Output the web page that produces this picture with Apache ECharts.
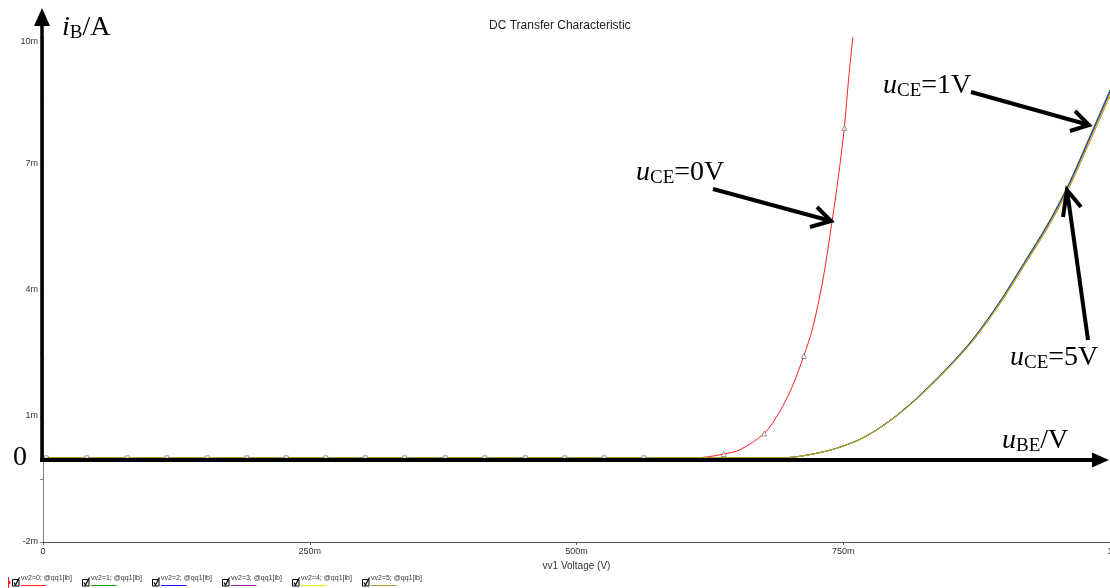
<!DOCTYPE html>
<html>
<head>
<meta charset="utf-8">
<script src="https://cdn.jsdelivr.net/npm/echarts@6/dist/echarts.min.js"></script>
<style>
  html, body { margin: 0; padding: 0; background: #ffffff; }
  #chart { width: 1110px; height: 588px; }
</style>
</head>
<body>
<div id="chart"></div>
<script>
// ---- chart text ----
const titleText = 'DC Transfer Characteristic';
const xAxisName = 'vv1 Voltage (V)';

// ---- axis ticks (x in volts, y in mA) ----
const xTicks = [0, 0.25, 0.5, 0.75, 1];
const xTickLabels = ['0', '250m', '500m', '750m', '1'];
const yLabelValues = [-2, 1, 4, 7, 10];
const yLabelTexts = ['-2m', '1m', '4m', '7m', '10m'];
const yTickValues = [-2, -0.5, 1, 2.5, 4, 5.5, 7, 8.5, 10];

// ---- traces: base current iB (mA) against vv1 (V), one per vv2 step ----
const seriesNames = ['vv2=0; @qq1[ib]', 'vv2=1; @qq1[ib]', 'vv2=2; @qq1[ib]',
                     'vv2=3; @qq1[ib]', 'vv2=4; @qq1[ib]', 'vv2=5; @qq1[ib]'];
const seriesColors = ['#ff2020', '#129a12', '#1818ff', '#a020a8', '#e6e600', '#9c9c2c'];

// vv2 = 0 V
const redV  = [0, 0.600, 0.618, 0.638, 0.653, 0.676, 0.690, 0.702, 0.713, 0.721, 0.730, 0.737, 0.745, 0.751, 0.755, 0.759];
const redIb = [0, 0,     0.01,  0.09,  0.19,  0.58,  1.08,  1.68,  2.42,  3.05,  4.10,  5.19,  6.60,  7.84,  9.00,  10.0];

// vv2 = 1 V ... 5 V share the same voltage samples
const bundleV = [0, 0.693, 0.715, 0.740, 0.762, 0.777, 0.790, 0.802, 0.821, 0.846, 0.871, 0.896, 0.919, 0.943, 0.962, 0.980, 1.000];
const ib1 = [0, 0, 0.060, 0.200, 0.400, 0.600, 0.820, 1.050, 1.470, 2.100, 2.810, 3.690, 4.620, 5.620, 6.550, 7.580, 8.750];
const ib2 = [0, 0, 0.060, 0.199, 0.398, 0.597, 0.816, 1.045, 1.462, 2.090, 2.796, 3.672, 4.597, 5.592, 6.517, 7.542, 8.706];
const ib3 = [0, 0, 0.059, 0.198, 0.396, 0.595, 0.813, 1.041, 1.456, 2.080, 2.783, 3.656, 4.577, 5.567, 6.488, 7.508, 8.668];
const ib4 = [0, 0, 0.059, 0.197, 0.395, 0.592, 0.809, 1.036, 1.449, 2.071, 2.771, 3.640, 4.557, 5.543, 6.459, 7.475, 8.630];
const ib5 = [0, 0, 0.059, 0.197, 0.393, 0.590, 0.806, 1.032, 1.444, 2.064, 2.761, 3.627, 4.541, 5.523, 6.436, 7.448, 8.600];

// trace symbols: squares along the flat part, triangles on the vv2=0 trace
const squareMarkV = [0.003, 0.041, 0.079, 0.116, 0.154, 0.191, 0.228, 0.265, 0.302,
                     0.339, 0.377, 0.414, 0.452, 0.489, 0.526, 0.563];
const triangleMarkV = [0.638, 0.676, 0.713, 0.751];

const pair = (xs, ys) => xs.map((x, i) => [x, ys[i]]);
const bundle = [ib1, ib2, ib3, ib4, ib5];

const chart = echarts.init(document.getElementById('chart'), null, { renderer: 'canvas' });

const lineSeries = [pair(redV, redIb)].concat(bundle.map(ys => pair(bundleV, ys))).map((data, i) => ({
  name: seriesNames[i],
  type: 'line',
  data: data,
  showSymbol: false,
  symbol: 'none',
  smooth: 0.3,
  clip: true,
  lineStyle: { color: seriesColors[i], width: 1 },
  itemStyle: { color: seriesColors[i] },
  z: 3 + i,
  silent: true
}));

const markerSeries = [
  {
    type: 'scatter',
    data: squareMarkV.map(v => [v, 0]),
    symbol: 'rect',
    symbolSize: 4,
    itemStyle: { color: '#ffffff', borderColor: '#808080', borderWidth: 1 },
    z: 12, silent: true
  },
  {
    type: 'scatter',
    data: triangleMarkV.map(v => [v, redIb[redV.indexOf(v)]]),
    symbol: 'triangle',
    symbolSize: 5,
    itemStyle: { color: '#ffffff', borderColor: '#808080', borderWidth: 1 },
    z: 12, silent: true
  }
];

const axisFont = 'Liberation Sans, Arial, sans-serif';
const serif = 'Liberation Serif, Times New Roman, serif';

chart.setOption({
  animation: false,
  backgroundColor: '#ffffff',
  title: {
    text: titleText,
    left: 484,
    top: 15,
    textStyle: { fontFamily: axisFont, fontSize: 12, fontWeight: 'normal', color: '#222222' }
  },
  grid: { left: 43, right: 0, top: 37, bottom: 46, containLabel: false, outerBoundsMode: 'none' },
  xAxis: {
    type: 'value',
    min: 0,
    max: 1,
    interval: 0.25,
    name: xAxisName,
    nameLocation: 'middle',
    nameGap: 19,
    nameTextStyle: { fontFamily: axisFont, fontSize: 10, color: '#333333' },
    axisLine: { onZero: false, lineStyle: { color: '#555555', width: 1 } },
    axisTick: { show: true, length: 3, lineStyle: { color: '#555555' } },
    axisLabel: {
      margin: 5,
      fontFamily: axisFont, fontSize: 9, color: '#333333',
      formatter: v => {
        const i = xTicks.findIndex(t => Math.abs(t - v) < 1e-9);
        return i >= 0 ? xTickLabels[i] : '';
      }
    },
    splitLine: { show: false }
  },
  yAxis: {
    type: 'value',
    min: -2,
    max: 10,
    interval: 3,
    axisLine: { show: true, onZero: false, lineStyle: { color: '#808080', width: 1 } },
    axisTick: { show: true, length: 3, customValues: yTickValues, lineStyle: { color: '#808080' } },
    axisLabel: {
      margin: 5,
      customValues: yLabelValues,
      verticalAlignMaxLabel: 'top',
      fontFamily: axisFont, fontSize: 9, color: '#333333',
      formatter: v => {
        const i = yLabelValues.findIndex(t => Math.abs(t - v) < 1e-9);
        return i >= 0 ? yLabelTexts[i] : '';
      }
    },
    splitLine: { show: false }
  },
  series: lineSeries.concat(markerSeries)
});

// ---- hand-drawn style axes, captions and pointer arrows ----
const measureCtx = document.createElement('canvas').getContext('2d');
function textWidth(str, font) {
  measureCtx.font = font;
  return measureCtx.measureText(str).width;
}

// caption = italic symbol, lowered subscript, then upright remainder, all on one baseline
function caption(x, baseline, first, sub, rest, italicFirst) {
  const mainSize = 28, subSize = 19;
  const firstFont = (italicFirst ? 'italic ' : '') + mainSize + 'px ' + serif;
  const subFont = subSize + 'px ' + serif;
  const restFont = mainSize + 'px ' + serif;
  const midMain = baseline - 0.3 * mainSize;
  const midSub = baseline + 3 - 0.3 * subSize;
  const parts = [];
  let cx = x;
  const addPart = (str, font, size, italic, mid) => {
    if (!str) return;
    parts.push({
      type: 'text', x: cx, y: mid, z: 100,
      style: {
        text: str, fontFamily: serif, fontSize: size, fontStyle: italic ? 'italic' : 'normal',
        fill: '#000000', align: 'left', verticalAlign: 'middle'
      }
    });
    cx += textWidth(str, font);
  };
  addPart(first, firstFont, mainSize, italicFirst, midMain);
  addPart(sub, subFont, subSize, false, midSub);
  addPart(rest, restFont, mainSize, false, midMain);
  return parts;
}

function pointer(from, tip, armA, armB) {
  return [
    { type: 'line', z: 100, shape: { x1: from[0], y1: from[1], x2: tip[0], y2: tip[1] },
      style: { stroke: '#000', lineWidth: 4, lineCap: 'butt' } },
    { type: 'polyline', z: 100, shape: { points: [armA, tip, armB] },
      style: { stroke: '#000', lineWidth: 4, lineJoin: 'miter', fill: null } }
  ];
}

const graphics = [
  // vertical axis arrow
  { type: 'line', z: 90, shape: { x1: 42, y1: 458, x2: 42, y2: 22 }, style: { stroke: '#000', lineWidth: 3.5 } },
  { type: 'polygon', z: 90, shape: { points: [[42, 8], [34, 26], [50, 26]] }, style: { fill: '#000' } },
  // horizontal axis arrow
  { type: 'line', z: 90, shape: { x1: 40, y1: 460, x2: 1095, y2: 460 }, style: { stroke: '#000', lineWidth: 4 } },
  { type: 'polygon', z: 90, shape: { points: [[1109, 460], [1092, 452.5], [1092, 467.5]] }, style: { fill: '#000' } }
]
  .concat(caption(62, 36, 'i', 'B', '/A', true))
  .concat(caption(1002, 449, 'u', 'BE', '/V', true))
  .concat(caption(13, 466, '0', '', '', false))
  .concat(caption(636, 181, 'u', 'CE', '=0V', true))
  .concat(caption(883, 94, 'u', 'CE', '=1V', true))
  .concat(caption(1010, 366, 'u', 'CE', '=5V', true))
  .concat(pointer([713, 189], [831, 221], [817, 207], [810, 227]))
  .concat(pointer([971, 92], [1089, 125], [1075, 111], [1070, 131]))
  .concat(pointer([1088, 340], [1067, 190], [1063, 217], [1081, 207]));

// legend strip: checkbox, trace name and a sample of the trace colour
graphics.push({ type: 'polygon', z: 100, shape: { points: [[8, 579], [11, 582.5], [8, 586]] }, style: { fill: '#ff2020' } });
graphics.push({ type: 'line', z: 100, shape: { x1: 8.5, y1: 577, x2: 8.5, y2: 588 }, style: { stroke: '#ff2020', lineWidth: 1 } });
seriesNames.forEach((name, i) => {
  const x0 = 12.5 + 70 * i;
  graphics.push(
    { type: 'rect', z: 100, shape: { x: x0, y: 579.5, width: 6.5, height: 6.5 },
      style: { fill: '#ffffff', stroke: '#000000', lineWidth: 1 } },
    { type: 'polyline', z: 101, shape: { points: [[x0 + 1.5, 582.5], [x0 + 3, 585], [x0 + 7, 577.5]] },
      style: { stroke: '#000000', lineWidth: 1.2, fill: null } },
    { type: 'text', z: 100, x: x0 + 8.5, y: 578.5,
      style: { text: name, fontFamily: axisFont, fontSize: 7, fill: '#333333', align: 'left', verticalAlign: 'middle' } },
    { type: 'line', z: 100, shape: { x1: x0 + 8.5, y1: 585.5, x2: x0 + 34, y2: 585.5 },
      style: { stroke: seriesColors[i], lineWidth: 1 } }
  );
});

chart.setOption({ graphic: { elements: graphics } });
</script>
</body>
</html>
